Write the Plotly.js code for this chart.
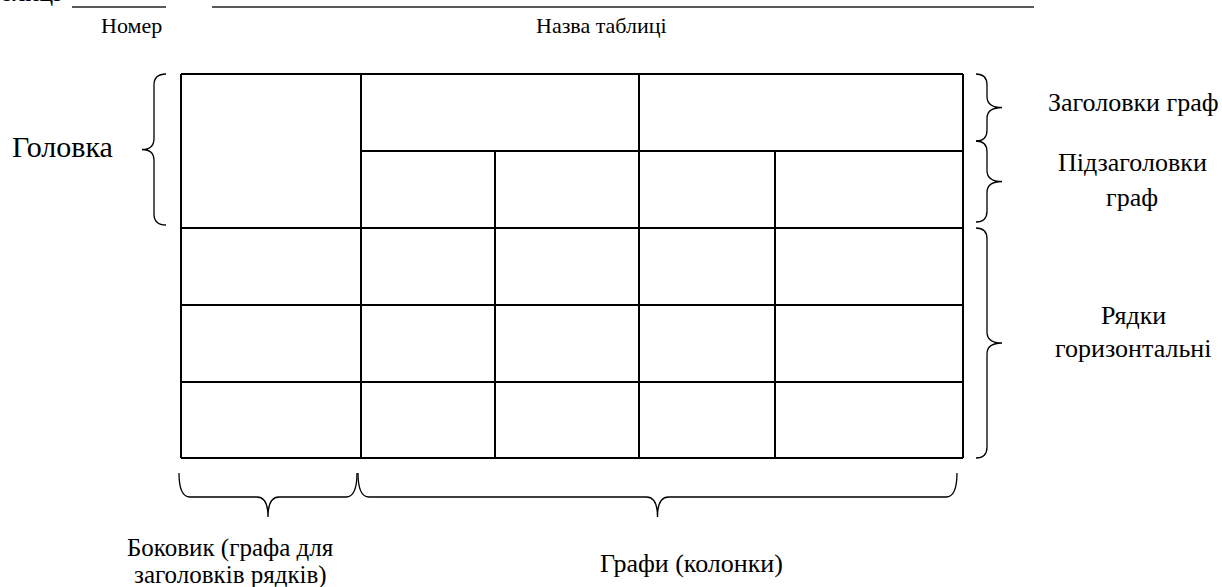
<!DOCTYPE html>
<html><head><meta charset="utf-8">
<script src="https://cdn.plot.ly/plotly-3.0.1.min.js"></script>
<style>
html,body{margin:0;padding:0;background:#fff;}
#c{width:1222px;height:587px;position:relative;z-index:1;}
#fontwarm{position:absolute;left:0;top:0;z-index:0;color:transparent;font-family:'Liberation Serif';font-size:26px;white-space:nowrap;}
</style>
</head><body>
<div id="c"></div>
<div id="fontwarm">Liberation Serif Головка</div>
<script>
// Table grid (pixel-like data units)
const rowEdges = [74, 151, 228, 305, 382, 458];
const colEdges = [181, 361, 495, 639, 775, 963];
// which column edges start at the header top (others start at sub-header line)
const colStartsAtTop = [true, true, false, true, false, true];
const subHeaderRow = 1; // index in rowEdges of line that spans only from column 1
// Top underline blanks
const blankLines = [[72, 166], [212, 1034]];
const blankY = 7;
// Braces: [kind, from, to, endPos, spinePos, tipPos]
const braces = [
  ['v', 74, 225, 166, 154, 142],
  ['v', 74, 141, 976, 987, 1002],
  ['v', 141, 222, 976, 987, 1002],
  ['v', 228, 458, 976, 987, 1002],
  ['h', 179, 357, 473, 497, 517],
  ['h', 358, 957, 473, 497, 517]
];
// Labels: [text, x, y, size]
const labelItems = [
  ['Номер', 131, 25, 22],
  ['Назва таблиці', 601, 25, 22],
  ['Головка', 62, 146, 30],
  ['Заголовки граф', 1133, 102, 26],
  ['Підзаголовки', 1132, 162, 26],
  ['граф', 1132, 197, 26],
  ['Рядки', 1133, 315, 26],
  ['горизонтальні', 1133, 348, 26],
  ['Боковик (графа для', 230, 548, 25],
  ['заголовків рядків)', 230, 575, 25],
  ['Графи (колонки)', 691, 563, 26]
];
const cutTitle = 'Таблиці';

const traceList = [];
const gridLine = {color: '#000', width: 2};
rowEdges.forEach((y, i) => {
  const x0 = (i === subHeaderRow) ? colEdges[1] : colEdges[0];
  traceList.push({x: [x0, colEdges[colEdges.length - 1]], y: [y, y], mode: 'lines', line: gridLine, hoverinfo: 'skip'});
});
colEdges.forEach((x, i) => {
  const y0 = colStartsAtTop[i] ? rowEdges[0] : rowEdges[subHeaderRow];
  traceList.push({x: [x, x], y: [y0, rowEdges[rowEdges.length - 1]], mode: 'lines', line: gridLine, hoverinfo: 'skip'});
});
blankLines.forEach(b => {
  traceList.push({x: b, y: [blankY, blankY], mode: 'lines', line: {color: '#222', width: 1.6}, hoverinfo: 'skip'});
});

function bracePath(b) {
  const [k, a0, a1, e, s, t] = b;
  const m = (a0 + a1) / 2;
  const r = 11;
  const P = (u, v) => k === 'v' ? (v + ',' + u) : (u + ',' + v);
  return 'M' + P(a0, e) +
    ' Q' + P(a0, s) + ' ' + P(a0 + r, s) +
    ' L' + P(m - r, s) +
    ' Q' + P(m, s) + ' ' + P(m, t) +
    ' Q' + P(m, s) + ' ' + P(m + r, s) +
    ' L' + P(a1 - r, s) +
    ' Q' + P(a1, s) + ' ' + P(a1, e);
}
const braceShapes = braces.map(b => ({type: 'path', xref: 'x', yref: 'y', path: bracePath(b), line: {color: '#000', width: 1.3}}));

const annList = labelItems.map(l => ({
  text: l[0], x: l[1], y: l[2], xref: 'x', yref: 'y', showarrow: false,
  xanchor: 'center', yanchor: 'middle', font: {family: 'Liberation Serif', size: l[3], color: '#000'}
}));
annList.push({text: cutTitle, x: 62, y: 0, xref: 'x', yref: 'y', showarrow: false,
  xanchor: 'right', yanchor: 'bottom', yshift: -9, font: {family: 'Liberation Serif', size: 26, color: '#000'}});

Plotly.newPlot('c', traceList, {
  width: 1222, height: 587,
  margin: {l: 0, r: 0, t: 0, b: 0},
  paper_bgcolor: '#fff', plot_bgcolor: '#fff',
  font: {family: 'Liberation Serif', color: '#000'},
  showlegend: false,
  xaxis: {range: [0, 1222], visible: false, fixedrange: true},
  yaxis: {range: [587, 0], visible: false, fixedrange: true},
  shapes: braceShapes,
  annotations: annList
}, {displayModeBar: false});
</script></body></html>
